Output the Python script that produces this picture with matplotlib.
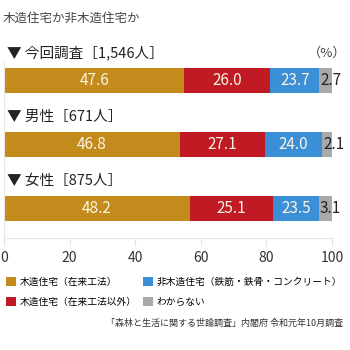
import numpy as np
import matplotlib.pyplot as plt

plt.rcParams['font.family'] = ['Noto Sans CJK JP', 'DejaVu Sans']

# data
groups = ['▼ 今回調査［1,546人］', '▼ 男性［671人］', '▼ 女性［875人］']
series = ['木造住宅（在来工法）', '木造住宅（在来工法以外）',
          '非木造住宅（鉄筋・鉄骨・コンクリート）', 'わからない']
# printed values
wood = [47.6, 46.8, 48.2]
wood_other = [26.0, 27.1, 25.1]
non_wood = [23.7, 24.0, 23.5]
unknown = [2.7, 2.1, 3.1]
# bar lengths as drawn in the picture (they do not follow the printed values)
wood_len = [55.0, 53.7, 56.7]
wood_other_len = [26.2, 25.9, 25.3]
non_wood_len = [14.9, 17.4, 14.0]
unknown_len = [3.9, 3.0, 4.0]
colors = ['#c38b1c', '#c01a24', '#3a8fd6', '#a9a9a9']
ticks = [0, 20, 40, 60, 80, 100]

W, H = 350, 350
fig = plt.figure(figsize=(3.5, 3.5), dpi=100)
# axes from x=4..332 px, y=62..238 px (from top)
ax = fig.add_axes([4 / W, 1 - 238 / H, 328 / W, 176 / H])

y = np.arange(len(groups))
vals = [wood, wood_other, non_wood, unknown]
lens = [wood_len, wood_other_len, non_wood_len, unknown_len]
left = np.zeros(len(groups))
bars = []
for i, v in enumerate(vals):
    b = ax.barh(y, lens[i], left=left, height=25 / 64, color=colors[i], label=series[i])
    bars.append(b)
    for j in range(len(groups)):
        if i < 3:
            ax.text(left[j] + lens[i][j] / 2, y[j], f'{v[j]:.1f}', ha='center',
                    va='center', color='#fbf3e4', fontsize=11)
        else:
            ax.text(left[j] + 0.3, y[j], f'{v[j]:.1f}', ha='left', va='center',
                    color='#222222', fontsize=11, clip_on=False)
    left = left + np.array(lens[i])

for j, g in enumerate(groups):
    ax.text(0.9, y[j] - 0.43, g, ha='left', va='center', fontsize=10.5,
            color='#222222', clip_on=False)
ax.text(104.3, -0.43, '（%）', ha='right', va='center', fontsize=9.5,
        color='#444444', clip_on=False)

ax.set_xlim(0, 100)
ax.set_ylim((238 - 80.5) / 64, (62 - 80.5) / 64)
ax.set_xticks(ticks)
ax.set_xticklabels([str(t) for t in ticks], fontsize=10, color='#333333')
ax.set_yticks([])
ax.tick_params(axis='x', length=6, color='#e6e6e6', pad=3)
for s in ['top', 'right']:
    ax.spines[s].set_visible(False)
for s in ['left', 'bottom']:
    ax.spines[s].set_color('#e6e6e6')
    ax.spines[s].set_linewidth(0.8)

fig.text(3 / W, 1 - 18 / H, '木造住宅か非木造住宅か', ha='left', va='center',
         fontsize=9, color='#444444')

fig.legend(handles=bars, labels=series, ncol=2, loc='upper left',
           bbox_to_anchor=(2 / W, 1 - 273 / H), frameon=False, fontsize=7.0,
           handlelength=1.0, handleheight=1.0, handletextpad=0.4,
           columnspacing=0.7, labelspacing=1.0, borderaxespad=0)

fig.text(343 / W, 1 - 323 / H, '「森林と生活に関する世論調査」内閣府 令和元年10月調査',
         ha='right', va='center', fontsize=6.5, color='#333333')

fig.savefig('out.png', dpi=100)
